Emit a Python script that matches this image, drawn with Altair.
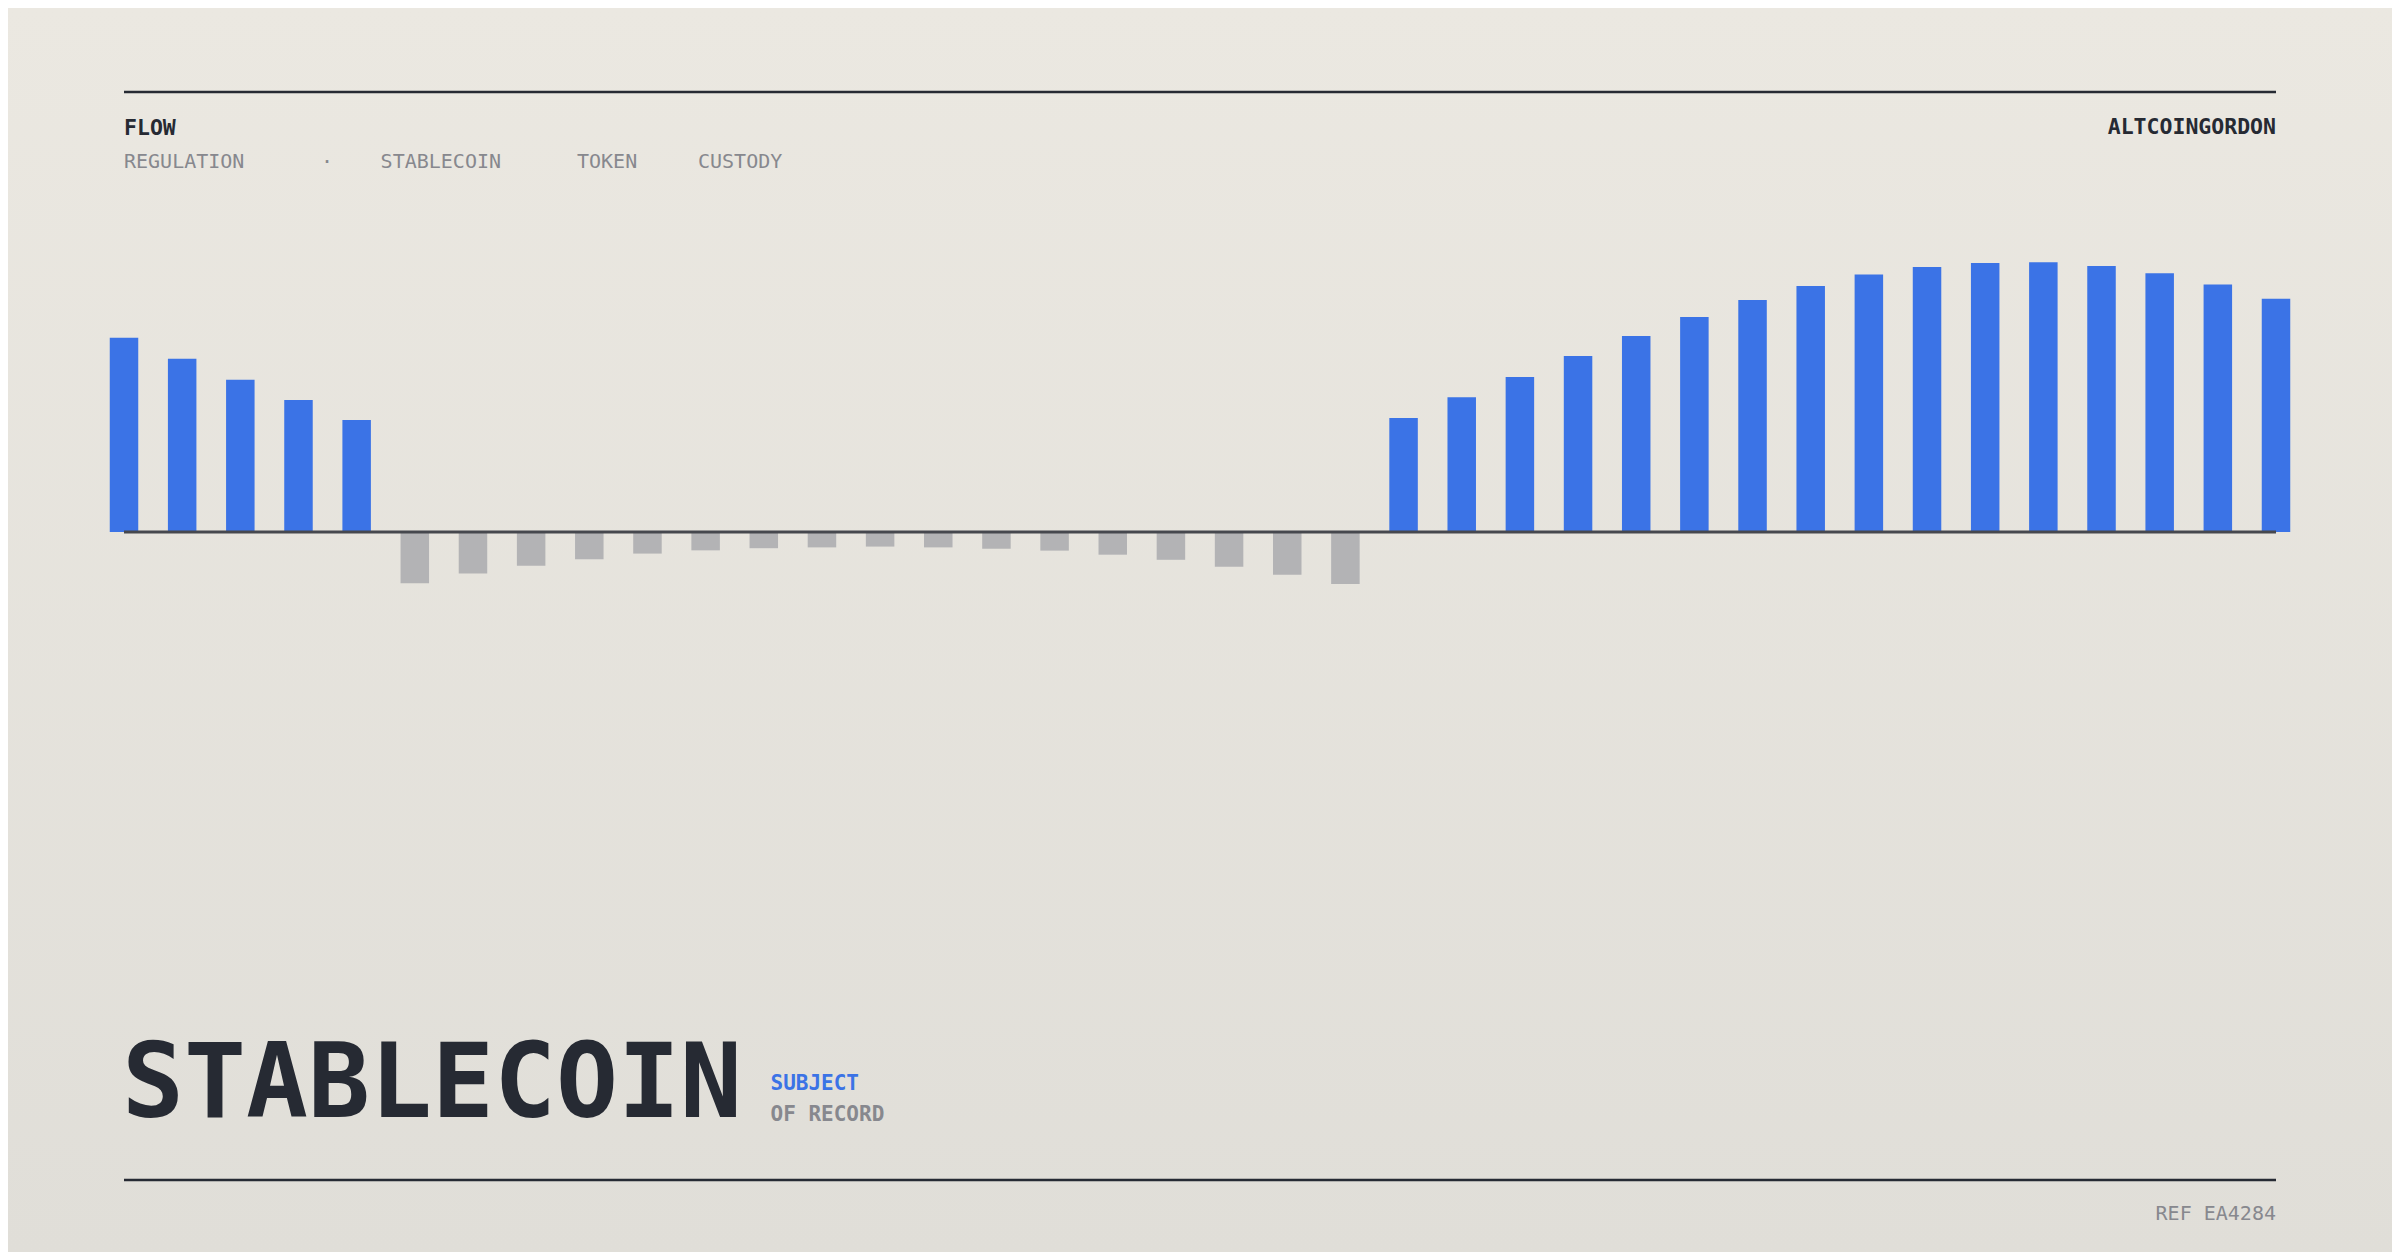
import altair as alt
import pandas as pd

# ---- data ----
left_pos = [71.9, 64.2, 56.4, 48.9, 41.5]
mid_neg = [-19.0, -15.4, -12.5, -10.1, -8.0, -6.8, -6.0, -5.7, -5.4, -5.7,
           -6.2, -6.9, -8.4, -10.3, -12.9, -15.8, -19.3]
right_pos = [42.2, 49.9, 57.4, 65.2, 72.6, 79.6, 85.9, 91.1, 95.4, 98.1,
             99.6, 99.9, 98.5, 95.8, 91.7, 86.4]
values = left_pos + mid_neg + right_pos
index = list(range(len(values)))

header_left = "FLOW"
header_right = "ALTCOINGORDON"
tags = ["REGULATION", "·", "STABLECOIN", "TOKEN", "CUSTODY"]
title_main = "STABLECOIN"
title_sub1 = "SUBJECT"
title_sub2 = "OF RECORD"
ref_text = "REF EA4284"

# ---- styling ----
W, H = 2152, 1088
FONT = "DejaVu Sans Mono"
DARK = "#262a33"
BLUE = "#3b73e6"
GREYBAR = "#b3b3b5"
GREYTXT = "#87888e"
BASE = "#46484e"

df = pd.DataFrame({"i": index, "v": values})
xscale = alt.Scale(domain=[0, len(values) - 1], nice=False, zero=False, padding=0)
yscale = alt.Scale(domain=[-240, 162.96], nice=False, zero=False, padding=0)

one = pd.DataFrame({"a": [0]})

PAD = {"left": 116, "top": 84, "right": 116, "bottom": 72}

bg = alt.Chart(one).mark_rect(
    fill=alt.Gradient(
        gradient="linear",
        stops=[alt.GradientStop(color="#ebe8e1", offset=0),
               alt.GradientStop(color="#e0ded8", offset=1)],
        x1=0, x2=0, y1=0, y2=1,
    )
).encode(x=alt.value(-PAD["left"]), x2=alt.value(W + PAD["right"]),
         y=alt.value(-PAD["top"]), y2=alt.value(H + PAD["bottom"]))

bars = alt.Chart(df).mark_bar(size=28.5).encode(
    x=alt.X("i:Q", scale=xscale, axis=None),
    y=alt.Y("v:Q", scale=yscale, axis=None),
    y2=alt.datum(0),
    color=alt.condition(alt.datum.v > 0, alt.value(BLUE), alt.value(GREYBAR)),
)

baseline = alt.Chart(pd.DataFrame({"v": [0]})).mark_rule(color=BASE, strokeWidth=3).encode(
    y=alt.Y("v:Q", scale=yscale, axis=None), x=alt.value(0), x2=alt.value(W)
)

top_rule = alt.Chart(one).mark_rule(color=DARK, strokeWidth=2.5).encode(
    x=alt.value(0), x2=alt.value(W), y=alt.value(0)
)
bottom_rule = alt.Chart(one).mark_rule(color=DARK, strokeWidth=2.5).encode(
    x=alt.value(0), x2=alt.value(W), y=alt.value(H)
)


def txt(text, x, y, size, color, weight="normal", align="left"):
    return alt.Chart(one).mark_text(
        text=text, font=FONT, fontSize=size, fontWeight=weight, color=color,
        align=align, baseline="alphabetic"
    ).encode(x=alt.value(x), y=alt.value(y))


tag_x = [0, 203, 256.6, 453, 574]
texts = [
    txt(header_left, 0, 43, 21.5, DARK, "bold"),
    txt(header_right, W, 42, 21.5, DARK, "bold", "right"),
    txt(title_main, -2, 1025, 103, DARK, "bold"),
    txt(title_sub1, 646.5, 998, 21, BLUE, "bold"),
    txt(title_sub2, 646.5, 1028.7, 21, GREYTXT, "bold"),
    txt(ref_text, W, 1128, 20, GREYTXT, "normal", "right"),
]
for t, x in zip(tags, tag_x):
    texts.append(txt(t, x, 76.3, 20, GREYTXT, "normal", "center" if t == "·" else "left"))

chart = alt.layer(bg, bars, baseline, top_rule, bottom_rule, *texts).properties(
    width=W, height=H,
    padding=PAD,
    autosize=alt.AutoSizeParams(type="none"),
).configure(background="#ebe8e1").configure_view(stroke=None)

chart.save("out.html", embed_options={"renderer": "svg", "actions": False})
